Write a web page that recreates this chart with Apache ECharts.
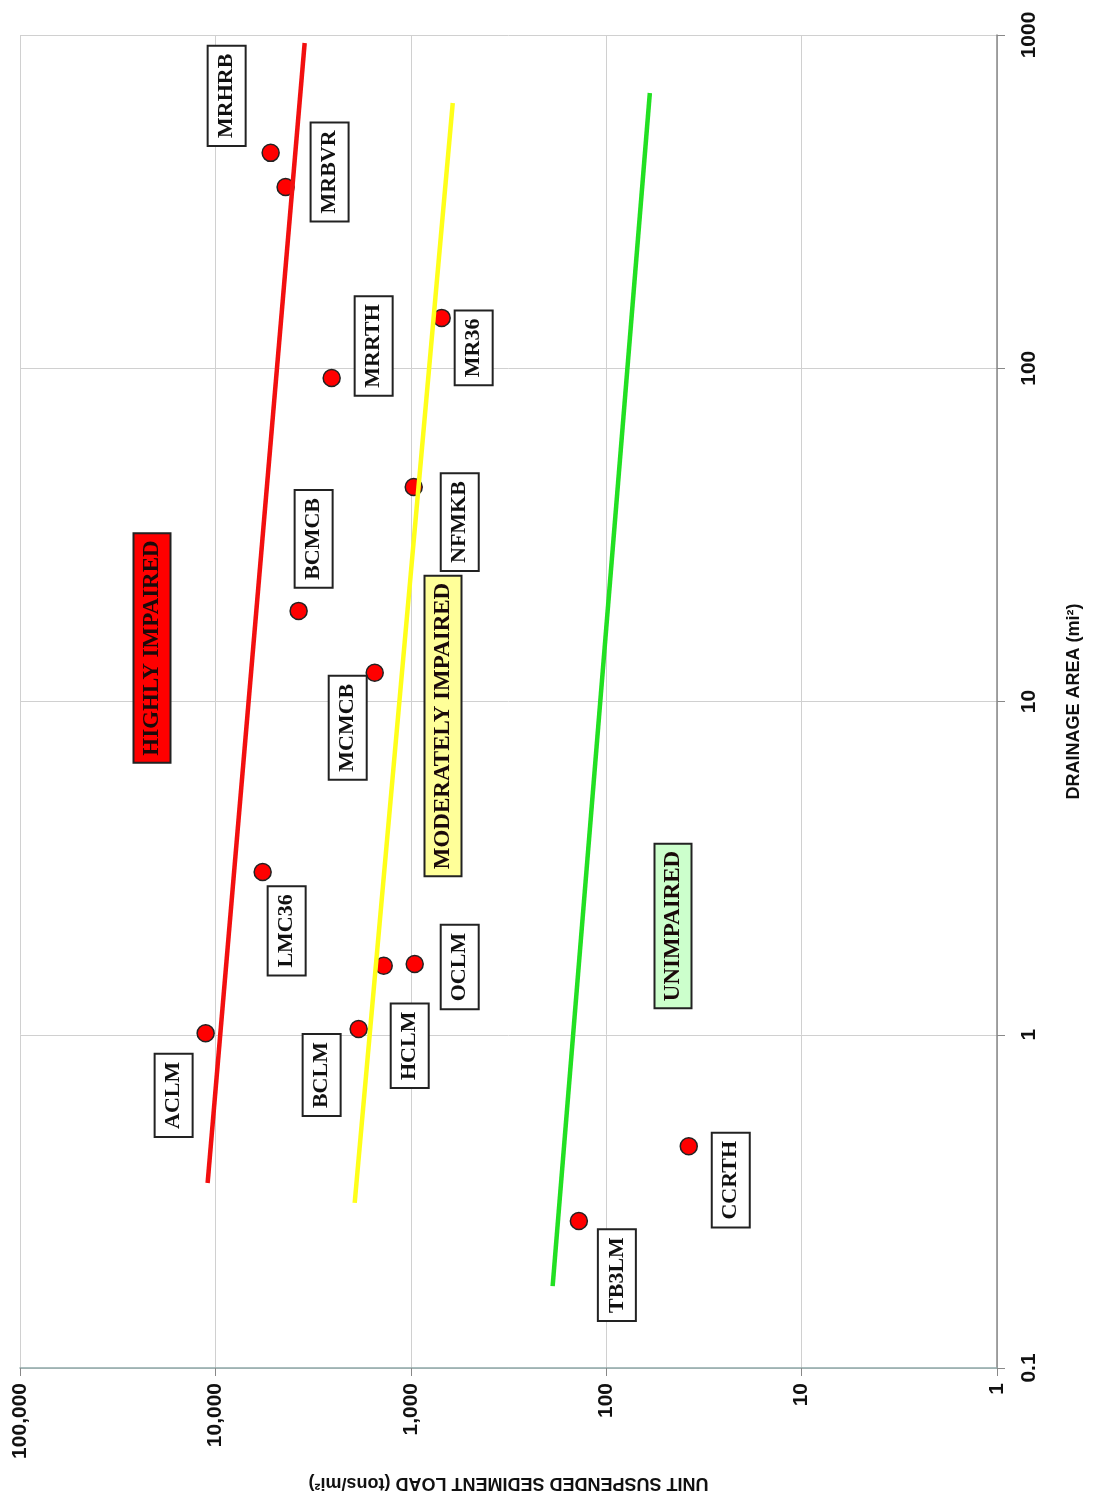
<!DOCTYPE html>
<html>
<head>
<meta charset="utf-8">
<script src="https://cdn.jsdelivr.net/npm/echarts@6/dist/echarts.min.js"></script>
<style>
  html, body { margin: 0; padding: 0; background: #fff; }
  #chart { width: 1094px; height: 1511px; }
</style>
</head>
<body>
<div id="chart"></div>
<script>
// site data: unit suspended sediment load (tons/mi2) vs drainage area (mi2)
const siteNames = ['MRHRB', 'MRBVR', 'MRRTH', 'MR36', 'NFMKB', 'BCMCB', 'MCMCB',
  'LMC36', 'OCLM', 'HCLM', 'BCLM', 'ACLM', 'CCRTH', 'TB3LM']
const siteLoad = [5215, 4373, 2541, 695, 966, 3750, 1530, 5730, 955, 1376, 1849, 11220, 37.8, 138]
const siteArea = [443, 350, 93.5, 141.6, 44, 18.7, 12.2, 3.08, 1.63, 1.61, 1.04, 1.01, 0.463, 0.276]

// threshold lines (end points)
const highlyLoad = [10960, 3493]
const highlyArea = [0.359, 946]
const moderateLoad = [1937, 610]
const moderateArea = [0.313, 625]
const unimpairedLoad = [188, 59.8]
const unimpairedArea = [0.176, 670]

// label box offsets from the point, in screen pixels
const labelOffset = {
  MRHRB: [-44, -57], MRBVR: [44, -15], MRRTH: [42, -32], MR36: [32, 30],
  NFMKB: [46, 35], BCMCB: [15, -72], MCMCB: [-27, 55], LMC36: [24, 59],
  OCLM: [45, 3], HCLM: [26, 80], BCLM: [-37, 46], ACLM: [-32, 62],
  CCRTH: [42, 34], TB3LM: [38, 54],
}

const sansBold = { fontFamily: '"Liberation Sans", Arial, sans-serif', fontWeight: 'bold', color: '#111' }

const pairs = (xs, ys) => xs.map((x, i) => [x, ys[i]])

const lineSeries = (xs, ys, color) => ({
  type: 'line',
  data: pairs(xs, ys),
  symbol: 'none',
  lineStyle: { color: color, width: 4.5 },
  z: 3,
})

let option = {
  backgroundColor: '#fff',
  animation: false,
  grid: {
    left: 20,
    right: 97,
    top: 35,
    bottom: 143,
  },
  xAxis: {
    type: 'log',
    logBase: 10,
    min: 1,
    max: 100000,
    inverse: true,
    position: 'bottom',
    name: 'UNIT SUSPENDED SEDIMENT LOAD (tons/mi²)',
    nameLocation: 'middle',
    nameRotate: 180,
    nameGap: 106,
    nameTextStyle: Object.assign({ fontSize: 18 }, sansBold),
    axisLine: { show: true, onZero: false, lineStyle: { color: '#8fa8a8', width: 1.5 } },
    axisTick: { show: true, length: 8, lineStyle: { color: '#888' } },
    axisLabel: Object.assign({
      rotate: 90,
      margin: 15,
      fontSize: 21,
      formatter: (v) => Math.round(v).toLocaleString('en-US'),
    }, sansBold),
    splitLine: { show: true, lineStyle: { color: '#d0d0d0', width: 1 } },
  },
  yAxis: {
    type: 'log',
    logBase: 10,
    min: 0.1,
    max: 1000,
    position: 'right',
    name: 'DRAINAGE AREA (mi²)',
    nameLocation: 'middle',
    nameRotate: 90,
    nameGap: 68,
    nameTextStyle: Object.assign({ fontSize: 18 }, sansBold),
    axisLine: { show: true, onZero: false, lineStyle: { color: '#888', width: 1.5 } },
    axisTick: { show: true, length: 8, lineStyle: { color: '#888' } },
    axisLabel: Object.assign({
      rotate: 90,
      margin: 22,
      fontSize: 21,
      formatter: (v) => (v < 1 ? '0.1' : String(Math.round(v))),
    }, sansBold),
    splitLine: { show: true, lineStyle: { color: '#d0d0d0', width: 1 } },
  },
  series: [
    {
      type: 'scatter',
      data: pairs(siteLoad, siteArea),
      symbol: 'circle',
      symbolSize: 17,
      itemStyle: { color: '#ff0000', borderColor: '#222', borderWidth: 1.5, opacity: 1 },
      z: 2,
    },
    lineSeries(highlyLoad, highlyArea, '#f20f0f'),
    lineSeries(moderateLoad, moderateArea, '#ffff1a'),
    lineSeries(unimpairedLoad, unimpairedArea, '#22e022'),
  ],
}

const dom = document.getElementById('chart')
const chart = echarts.init(dom)
chart.setOption(option)

const serif = 'bold 22px "Liberation Serif", "Times New Roman", serif'

// site labels, placed next to their points
const siteLabels = siteNames.map((name, i) => {
  const p = chart.convertToPixel({ gridIndex: 0 }, [siteLoad[i], siteArea[i]])
  const off = labelOffset[name]
  return {
    type: 'text',
    x: p[0] + off[0],
    y: p[1] + off[1],
    rotation: Math.PI / 2,
    z: 10,
    style: {
      text: name,
      font: serif,
      fill: '#111',
      align: 'center',
      verticalAlign: 'middle',
      lineHeight: 22,
      backgroundColor: '#fff',
      borderColor: '#222',
      borderWidth: 2,
      padding: [7, 7],
    },
  }
})

// zone captions
const zoneText = (text, x, y, bg) => ({
  type: 'text',
  x: x,
  y: y,
  rotation: Math.PI / 2,
  z: 10,
  style: {
    text: text,
    font: 'bold 23px "Liberation Serif", "Times New Roman", serif',
    fill: '#1a0a0a',
    align: 'center',
    verticalAlign: 'middle',
    lineHeight: 23,
    backgroundColor: bg,
    borderColor: '#222',
    borderWidth: 2,
    padding: [6, 6],
  },
})

chart.setOption({
  graphic: siteLabels.concat([
    zoneText('HIGHLY IMPAIRED', 152, 648, '#ff0000'),
    zoneText('MODERATELY IMPAIRED', 443, 726, '#ffff99'),
    zoneText('UNIMPAIRED', 673, 926, '#ccffcc'),
  ]),
})
</script>
</body>
</html>
